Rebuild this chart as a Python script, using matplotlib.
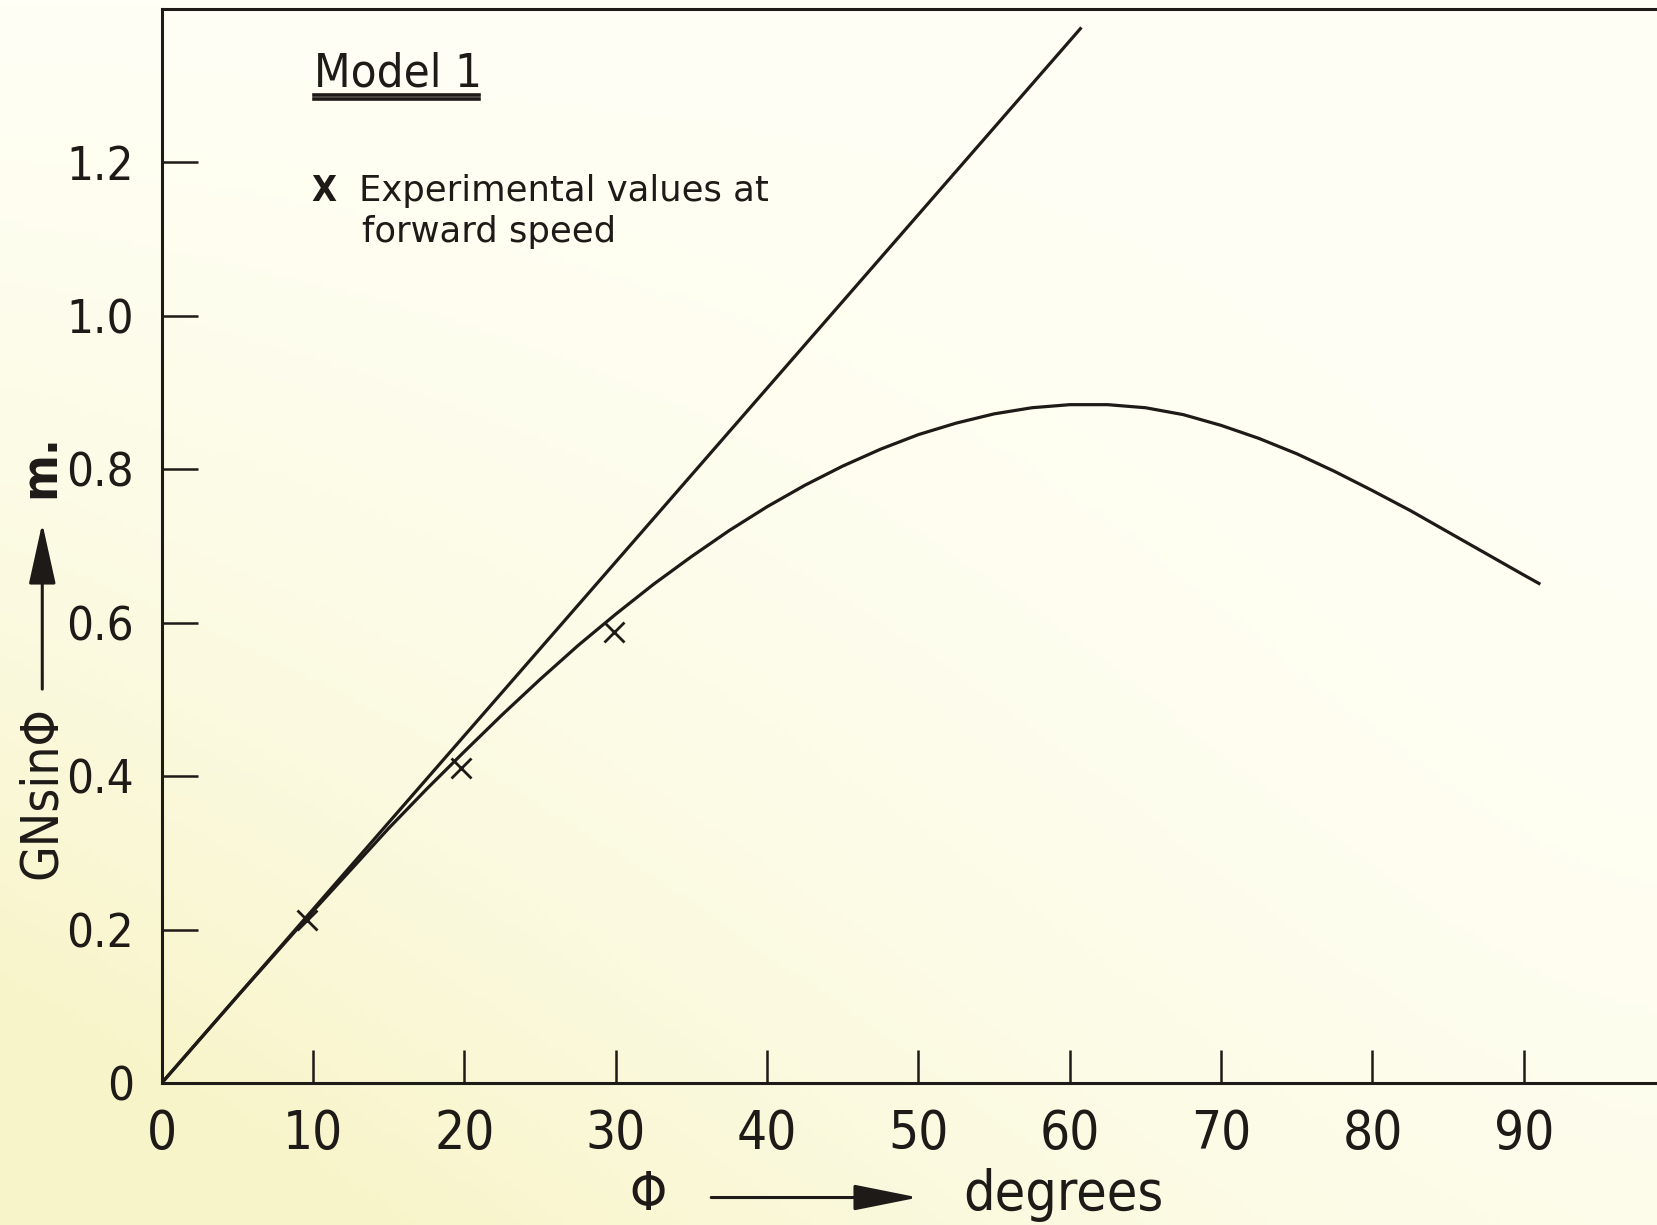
import matplotlib
matplotlib.use("Agg")
import matplotlib.pyplot as plt
import numpy as np

# data
phi_line = [0, 60.7]
gm_line = [0, 1.374]

phi_curve = [0, 5, 10, 15, 17.5, 20, 22.5, 25, 27.5, 30, 32.5, 35, 37.5, 40, 42.5, 45,
             47.5, 50, 52.5, 55, 57.5, 60, 62.5, 65, 67.5, 70, 72.5, 75, 77.5, 80, 82.5,
             85, 87.5, 90, 91]
gm_curve = [0, 0.113, 0.224, 0.332, 0.383, 0.432, 0.480, 0.526, 0.570, 0.611, 0.650,
            0.686, 0.720, 0.751, 0.779, 0.804, 0.826, 0.845, 0.860, 0.872, 0.880, 0.884,
            0.884, 0.880, 0.871, 0.857, 0.840, 0.820, 0.797, 0.772, 0.746, 0.718, 0.690,
            0.662, 0.651]

phi_exp = [9.6, 19.8, 29.9]
gm_exp = [0.212, 0.411, 0.588]

x_ticks = [0, 10, 20, 30, 40, 50, 60, 70, 80, 90]
y_ticks = [0, 0.2, 0.4, 0.6, 0.8, 1.0, 1.2]
y_labels = ["0", "0.2", "0.4", "0.6", "0.8", "1.0", "1.2"]

ink = '#1e1a17'
cond = dict(family='DejaVu Sans', stretch='condensed')

fig = plt.figure(figsize=(16.57, 12.25), dpi=100, facecolor='#fefef4')

# paper tint: near white, yellower towards the bottom left corner
bg = fig.add_axes([0, 0, 1, 1], zorder=-1)
gx, gy = np.meshgrid(np.linspace(0, 1, 200), np.linspace(0, 1, 200))
w = np.clip((1 - gx) ** 1.5 * gy ** 1.2 * 1.1 + 0.25 * gy ** 3, 0, 1)[..., None]
white = np.array([1.0, 1.0, 0.962])
yellow = np.array([0.972, 0.958, 0.790])
bg.imshow(white * (1 - w) + yellow * w, aspect='auto', extent=[0, 1, 0, 1])
bg.axis('off')

ax = fig.add_axes([0.0976, 0.1159, 0.9024, 0.877])
ax.patch.set_visible(False)

ax.plot(phi_line, gm_line, color=ink, lw=2.3)
ax.plot(phi_curve, gm_curve, color=ink, lw=2.3)
ax.plot(phi_exp, gm_exp, ls='none', marker='x', ms=14, mew=2.0, color=ink)

ax.set_xlim(0, 98.8)
ax.set_ylim(0, 1.4)

ax.spines['right'].set_visible(False)
for s in ['left', 'bottom', 'top']:
    ax.spines[s].set_linewidth(2.2)
    ax.spines[s].set_color(ink)

ax.set_xticks(x_ticks)
ax.set_xticklabels([str(v) for v in x_ticks], fontsize=38, color=ink, **cond)
ax.set_yticks(y_ticks)
ax.set_yticklabels(y_labels, fontsize=34, color=ink, **cond)
ax.tick_params(axis='x', direction='in', length=24, width=1.8, pad=18, color=ink)
ax.tick_params(axis='y', direction='in', length=26, width=1.8, pad=20, color=ink)

# title with double underline
ax.text(0.102, 0.928, "Model 1", transform=ax.transAxes, fontsize=34, color=ink,
        ha='left', va='baseline', **cond)
for yy in [0.9195, 0.9155]:
    ax.plot([0.102, 0.212], [yy, yy], transform=ax.transAxes, color=ink, lw=2.6,
            clip_on=False)

# legend note
ax.text(0.1, 0.821, "X", transform=ax.transAxes, fontsize=26, fontweight='bold',
        color=ink, ha='left', va='baseline', **cond)
ax.text(0.132, 0.821, "Experimental values at", transform=ax.transAxes, fontsize=25.5,
        color=ink, ha='left', va='baseline')
ax.text(0.134, 0.783, "forward speed", transform=ax.transAxes, fontsize=25.5,
        color=ink, ha='left', va='baseline')

# y label: GNsinΦ --> m.
fig.text(40 / 1568, 1 - 750 / 1159, "GNsin\u03a6", rotation=90, fontsize=37, color=ink,
         ha='center', va='center', **cond)
fig.text(38 / 1568, 1 - 441 / 1159, "m.", rotation=90, fontsize=36, color=ink,
         fontweight='bold', ha='center', va='center', **cond)
ax.annotate('', xy=(40 / 1568, 1 - 495 / 1159), xytext=(40 / 1568, 1 - 652 / 1159),
            xycoords='figure fraction', textcoords='figure fraction',
            arrowprops=dict(arrowstyle='-|>,head_length=1.9,head_width=0.42',
                            mutation_scale=20, lw=2.2, color=ink, shrinkA=0, shrinkB=0))

# x label: Φ --> degrees
fig.text(613 / 1568, 1 - 1131 / 1159, "\u03a6", fontsize=38, color=ink,
         ha='center', va='center', **cond)
fig.text(1006 / 1568, 1 - 1131 / 1159, "degrees", fontsize=40, color=ink,
         ha='center', va='center', **cond)
ax.annotate('', xy=(869 / 1568, 1 - 1133 / 1159), xytext=(673 / 1568, 1 - 1133 / 1159),
            xycoords='figure fraction', textcoords='figure fraction',
            arrowprops=dict(arrowstyle='-|>,head_length=2.0,head_width=0.4',
                            mutation_scale=20, lw=2.2, color=ink, shrinkA=0, shrinkB=0))

fig.savefig("out.png", dpi=100)
